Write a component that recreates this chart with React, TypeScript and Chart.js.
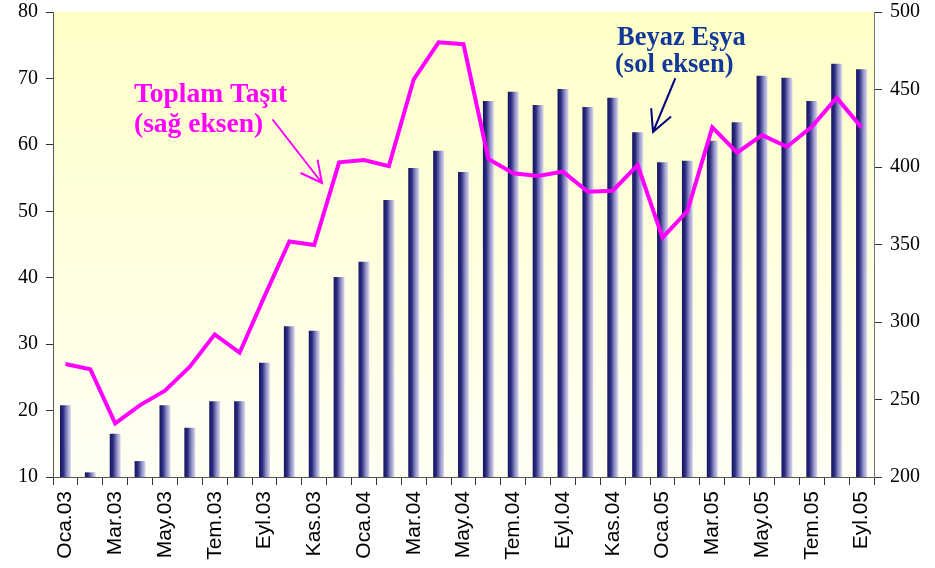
import React, { useEffect, useRef } from "react";
import { Chart, registerables } from "chart.js";

Chart.register(...registerables);

const months = [
  "Oca.03", "Şub.03", "Mar.03", "Nis.03", "May.03", "Haz.03", "Tem.03", "Ağu.03", "Eyl.03", "Eki.03", "Kas.03", "Ara.03",
  "Oca.04", "Şub.04", "Mar.04", "Nis.04", "May.04", "Haz.04", "Tem.04", "Ağu.04", "Eyl.04", "Eki.04", "Kas.04", "Ara.04",
  "Oca.05", "Şub.05", "Mar.05", "Nis.05", "May.05", "Haz.05", "Tem.05", "Ağu.05", "Eyl.05",
];

// Beyaz Eşya (sol eksen)
const beyazEsya = [
  20.8, 10.7, 16.5, 12.4, 20.8, 17.4, 21.4, 21.4, 27.2, 32.7, 32.0, 40.1,
  42.4, 51.7, 56.5, 59.1, 55.9, 66.6, 68.0, 66.0, 68.4, 65.7, 67.1, 61.9,
  57.4, 57.6, 60.6, 63.4, 70.4, 70.1, 66.6, 72.2, 71.4,
];

// Toplam Taşıt (sağ eksen)
const toplamTasit = [
  272.9, 269.5, 234.6, 246.4, 255.7, 271.2, 292.0, 280.2, 316.5, 352.0, 349.7, 403.0,
  404.5, 400.6, 456.6, 480.4, 479.2, 405.2, 395.9, 394.2, 397.0, 384.0, 384.7, 401.3,
  354.4, 371.6, 425.6, 409.3, 420.6, 413.1, 426.0, 444.7, 425.4,
];

const leftAxis = { min: 10, max: 80, step: 10 };
const rightAxis = { min: 200, max: 500, step: 50 };

const BAR_PCT = 0.44;

function drawArrow(ctx: CanvasRenderingContext2D, x1: number, y1: number, x2: number, y2: number, color: string) {
  const ang = Math.atan2(y1 - y2, x1 - x2);
  const len = 23;
  const spread = (27 * Math.PI) / 180;
  ctx.save();
  ctx.strokeStyle = color;
  ctx.lineWidth = 2;
  ctx.lineCap = "round";
  ctx.beginPath();
  ctx.moveTo(x1, y1);
  ctx.lineTo(x2, y2);
  ctx.moveTo(x2 + len * Math.cos(ang - spread), y2 + len * Math.sin(ang - spread));
  ctx.lineTo(x2, y2);
  ctx.lineTo(x2 + len * Math.cos(ang + spread), y2 + len * Math.sin(ang + spread));
  ctx.stroke();
  ctx.restore();
}

export default function App() {
  const ref = useRef<HTMLCanvasElement>(null);

  useEffect(() => {
    document.body.style.margin = "0";
    const canvas = ref.current;
    if (!canvas) return;

    const plotBg = {
      id: "plotBg",
      beforeDraw(chart: any) {
        const { ctx, chartArea: a } = chart;
        const g = ctx.createLinearGradient(0, a.top, 0, a.bottom);
        g.addColorStop(0, "#ffffc8");
        g.addColorStop(1, "#fffff4");
        ctx.save();
        ctx.fillStyle = g;
        ctx.fillRect(a.left, a.top, a.right - a.left, a.bottom - a.top);
        ctx.restore();
      },
    };

    const annotations = {
      id: "annotations",
      afterDraw(chart: any) {
        const ctx: CanvasRenderingContext2D = chart.ctx;
        ctx.save();
        ctx.textAlign = "left";
        ctx.textBaseline = "alphabetic";
        ctx.font = "bold 27.5px 'Liberation Serif', 'Times New Roman', serif";
        ctx.fillStyle = "#ff00ff";
        ctx.fillText("Toplam Taşıt", 134, 102);
        ctx.fillText("(sağ eksen)", 134, 132);
        ctx.font = "bold 26.5px 'Liberation Serif', 'Times New Roman', serif";
        ctx.fillStyle = "#12399a";
        ctx.fillText("Beyaz Eşya", 617, 45);
        ctx.fillText("(sol eksen)", 615, 72);
        ctx.restore();
        drawArrow(ctx, 273, 120, 322, 183, "#ff00ff");
        drawArrow(ctx, 675, 79, 653, 132, "#000080");
      },
    };

    const barFill = (c: any) => {
      const chart = c.chart;
      const xs = chart.scales?.x;
      if (!chart.chartArea || !xs || c.dataIndex === undefined) return "#3a3a8a";
      const x = xs.getPixelForValue(c.dataIndex);
      const w = ((xs.right - xs.left) / months.length) * BAR_PCT;
      const g = chart.ctx.createLinearGradient(x - w / 2, 0, x + w / 2, 0);
      g.addColorStop(0, "#141463");
      g.addColorStop(0.3, "#2c2c80");
      g.addColorStop(0.65, "#8e8ec4");
      g.addColorStop(1, "#dadaf0");
      return g;
    };

    const tickFont = { family: "'Liberation Serif', 'Times New Roman', serif", size: 20 };

    const chart = new Chart(canvas, {
      type: "bar",
      data: {
        labels: months,
        datasets: [
          {
            type: "line",
            label: "Toplam Taşıt",
            data: toplamTasit,
            yAxisID: "y1",
            borderColor: "#ff00ff",
            borderWidth: 4,
            pointRadius: 0,
            tension: 0,
            borderJoinStyle: "miter",
            fill: false,
            order: 0,
          } as any,
          {
            type: "bar",
            label: "Beyaz Eşya",
            data: beyazEsya,
            yAxisID: "y",
            backgroundColor: barFill,
            borderWidth: 0,
            barPercentage: BAR_PCT,
            categoryPercentage: 1,
            order: 1,
          } as any,
        ],
      },
      options: {
        responsive: false,
        animation: false,
        events: [],
        layout: { padding: { top: 12, left: 0, right: 0, bottom: 0 } },
        plugins: {
          legend: { display: false },
          tooltip: { enabled: false },
          title: { display: false },
        },
        scales: {
          x: {
            offset: true,
            grid: {
              display: true,
              drawOnChartArea: false,
              offset: true,
              tickLength: 8,
              color: "#333",
            },
            border: { display: true, color: "#555", width: 1 },
            ticks: {
              autoSkip: false,
              minRotation: 90,
              maxRotation: 90,
              padding: 6,
              color: "#000",
              font: { family: "'Liberation Sans', Arial, sans-serif", size: 21 },
              callback: (_v: any, i: number) => (i % 2 === 0 ? months[i] : ""),
            },
            afterFit: (s: any) => {
              s.height = 91;
              s.paddingLeft = 0;
              s.paddingRight = 0;
            },
          },
          y: {
            position: "left",
            min: leftAxis.min,
            max: leftAxis.max,
            grid: { display: true, drawOnChartArea: false, tickLength: 7, color: "#333" },
            border: { display: true, color: "#555", width: 1 },
            ticks: { stepSize: leftAxis.step, padding: 8, color: "#000", font: tickFont },
            afterFit: (s: any) => {
              s.width = 53;
              s.paddingTop = 0;
              s.paddingBottom = 0;
            },
          },
          y1: {
            position: "right",
            min: rightAxis.min,
            max: rightAxis.max,
            grid: { display: true, drawOnChartArea: false, tickLength: 8, color: "#333" },
            border: { display: true, color: "#777", width: 1 },
            ticks: { stepSize: rightAxis.step, padding: 8, color: "#000", font: tickFont },
            afterFit: (s: any) => {
              s.width = 61;
              s.paddingTop = 0;
              s.paddingBottom = 0;
            },
          },
        },
      } as any,
      plugins: [plotBg, annotations],
    });

    return () => chart.destroy();
  }, []);

  return (
    <div style={{ width: 935, height: 568, background: "#fff" }}>
      <canvas ref={ref} width={935} height={568} style={{ display: "block", width: 935, height: 568 }} />
    </div>
  );
}
